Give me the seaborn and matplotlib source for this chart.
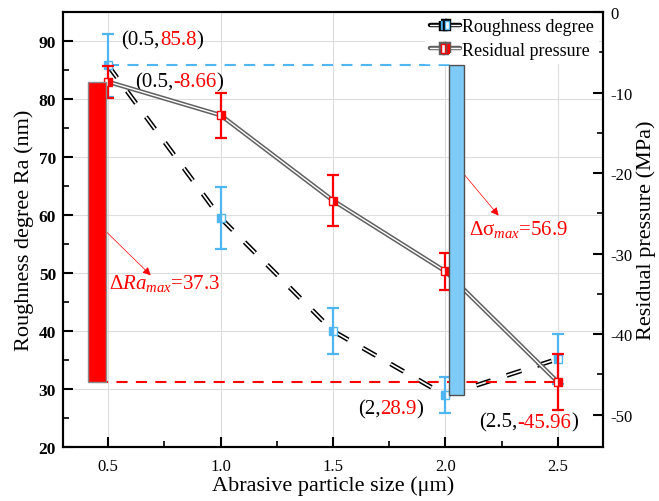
import matplotlib
matplotlib.use("Agg")
import matplotlib.pyplot as plt
import matplotlib.patheffects as pe
import matplotlib.transforms as mtrans
from matplotlib.ticker import MultipleLocator
from matplotlib.lines import Line2D
import seaborn as sns
import pandas as pd

# ---------------- data ----------------
sizes = [0.5, 1.0, 1.5, 2.0, 2.5]
roughness = [85.8, 59.5, 40.0, 28.9, 35.2]
roughness_err = [5.4, 5.3, 3.9, 3.1, 4.3]
pressure = [-8.66, -12.8, -23.4, -32.2, -45.96]
pressure_err = [2.0, 2.8, 3.2, 2.3, 3.45]
x_ticks = [0.5, 1.0, 1.5, 2.0, 2.5]
x_ticklabels = ["0.5", "1.0", "1.5", "2.0", "2.5"]
left_ticks = [20, 30, 40, 50, 60, 70, 80, 90]
right_ticks = [0, -10, -20, -30, -40, -50]
red_bar_x = 0.45
blue_bar_x = 2.05
delta_ra_text = "37.3"
delta_sigma_text = "56.9"

df = pd.DataFrame({"size": sizes, "Ra": roughness, "P": pressure})

sns.set_theme(style="white")
plt.rcParams["font.family"] = ["Liberation Serif", "DejaVu Serif"]
plt.rcParams["mathtext.fontset"] = "custom"
plt.rcParams["mathtext.rm"] = "Liberation Serif"
plt.rcParams["mathtext.it"] = "Liberation Serif:italic"
plt.rcParams["lines.scale_dashes"] = False
for k in ("text.color", "axes.labelcolor", "xtick.color", "ytick.color", "axes.edgecolor"):
    plt.rcParams[k] = "black"

BLUE = "#4fb6f2"
BLUE_BAR = "#7fcbf7"
RED = "#ff0000"
DASH = (0, (11, 12))

fig = plt.figure(figsize=(6.59, 5.02), dpi=100)
ax = fig.add_axes([63 / 659, 1 - 448 / 502, 540 / 659, 435 / 502])
ax2 = ax.twinx()

# ---------- roughness (left axis) : black dashed line with white core ----------
sns.lineplot(data=df, x="size", y="Ra", ax=ax, color="black", lw=3.4,
             linestyle=DASH, dash_capstyle="butt", zorder=3)
sns.lineplot(data=df, x="size", y="Ra", ax=ax, color="white", lw=1.2,
             linestyle=DASH, dash_capstyle="butt", zorder=3.1)
ax.errorbar(sizes, roughness, yerr=roughness_err, fmt="none", ecolor=BLUE,
            elinewidth=1.6, capsize=4.5, capthick=1.6, zorder=4)
ax.plot(sizes, roughness, ls="none", marker="s", ms=6.3, fillstyle="left",
        color=BLUE, markerfacecoloralt="white", mec=BLUE, mew=1, zorder=5)
ax.hlines(roughness[0], sizes[0], blue_bar_x, colors=BLUE, lw=1.5,
          linestyles=(0, (8, 6)), zorder=2)

# ---------- residual pressure (right axis) ----------
sns.lineplot(data=df, x="size", y="P", ax=ax2, color="white", lw=1.0, zorder=3,
             path_effects=[pe.Stroke(linewidth=3.2, foreground="#606060"), pe.Normal()])
ax2.errorbar(sizes, pressure, yerr=pressure_err, fmt="none", ecolor=RED,
             elinewidth=1.6, capsize=4.5, capthick=1.6, zorder=4)
ax2.plot(sizes, pressure, ls="none", marker="s", ms=6.3, fillstyle="right",
         color=RED, markerfacecoloralt="white", mec=RED, mew=1, zorder=5)
ax2.hlines(pressure[-1], red_bar_x, sizes[-1], colors=RED, lw=1.5,
           linestyles=(0, (8, 6)), zorder=2)

# range bars
ax2.bar(red_bar_x, pressure[0] - pressure[-1], bottom=pressure[-1], width=0.08,
        color=RED, edgecolor="#8a8a8a", lw=1.0, zorder=6)
blend = mtrans.blended_transform_factory(ax2.transData, ax.transData)
ax2.bar(blue_bar_x, max(roughness) - min(roughness), bottom=min(roughness), width=0.067,
        color=BLUE_BAR, edgecolor="#505050", lw=1.0, zorder=6, transform=blend)

# ---------- axes formatting ----------
ax.set_xlim(0.3, 2.7)
ax.set_ylim(20, 95)
ax2.set_ylim(-54, 0)
ax.set_xticks(x_ticks)
ax.set_xticklabels(x_ticklabels)
ax.set_yticks(left_ticks)
ax.set_yticklabels([str(t) for t in left_ticks], fontweight="bold")
ax2.set_yticks(right_ticks)
ax2.set_yticklabels([str(t) for t in right_ticks])
ax.xaxis.set_minor_locator(MultipleLocator(0.25))
ax.yaxis.set_minor_locator(MultipleLocator(5))
ax2.yaxis.set_minor_locator(MultipleLocator(5))

ax.grid(True, which="major", color="#dddddd", lw=0.8)
ax.set_axisbelow(True)

for a in (ax, ax2):
    for s in a.spines.values():
        s.set_linewidth(1.5)
        s.set_color("black")
ax.tick_params(axis="both", which="both", direction="in", color="black",
               left=True, bottom=True, right=False, top=False)
ax.tick_params(which="major", length=7, width=1.5, labelsize=12.5, pad=5)
ax.tick_params(which="minor", length=4, width=1.2)
ax.tick_params(axis="x", labelsize=12, pad=8)
ax2.tick_params(axis="y", which="both", direction="in", color="black", right=True)
ax2.tick_params(axis="y", which="major", length=7, width=1.5, labelsize=12, pad=5)
ax2.tick_params(axis="y", which="minor", length=4, width=1.2)

ax.set_xlabel("Abrasive particle size (μm)", fontsize=16, labelpad=1)
ax.set_ylabel("Roughness degree Ra (nm)", fontsize=16, labelpad=3)
ax2.set_ylabel("Residual pressure (MPa)", fontsize=16, labelpad=3)

# ---------- annotations ----------
def colored_label(axis, x, y, parts, size=15):
    t = axis.text(x, y, parts[0][0], color=parts[0][1], fontsize=size,
                  va="center", ha="left", zorder=8)
    prev = t
    for txt, col in parts[1:]:
        prev = axis.annotate(txt, xy=(1, 0), xycoords=prev, va="bottom", ha="left",
                             color=col, fontsize=size, zorder=8)
    return t

colored_label(ax, 0.56, 90.2, [("(0.5,", "black"), (f"{roughness[0]}", RED), (")", "black")])
colored_label(ax, 0.62, 83.0, [("(0.5,", "black"), (f"{pressure[0]}", RED), (")", "black")])
colored_label(ax, 1.61, 26.6, [("(2,", "black"), (f"{roughness[3]}", RED), (")", "black")])
colored_label(ax, 2.148, 24.3, [("(2.5,", "black"), (f"{pressure[-1]}", RED), (")", "black")])

ax.text(0.505, 48.4, r"Δ$Ra_{max}$=" + delta_ra_text, color=RED, fontsize=15,
        va="center", ha="left", zorder=8)
ax.text(2.103, 57.6, r"Δσ$_{max}$=" + delta_sigma_text, color=RED, fontsize=15,
        va="center", ha="left", zorder=8)
ax.annotate("", xy=(0.69, 49.6), xytext=(0.49, 57.2),
            arrowprops=dict(arrowstyle="-|>", color=RED, lw=0.5, mutation_scale=12,
                            shrinkA=0, shrinkB=0), zorder=8)
ax.annotate("", xy=(2.236, 59.9), xytext=(2.085, 66.9),
            arrowprops=dict(arrowstyle="-|>", color=RED, lw=0.5, mutation_scale=12,
                            shrinkA=0, shrinkB=0), zorder=8)

# ---------- legend ----------
h1 = Line2D([], [], color="white", lw=1.0, marker="s", ms=6.3, fillstyle="left",
            mfc=BLUE, markerfacecoloralt="white", mec=BLUE,
            path_effects=[pe.Stroke(linewidth=3.2, foreground="black"), pe.Normal()])
h2 = Line2D([], [], color="white", lw=1.0, marker="s", ms=6.3, fillstyle="right",
            mfc=RED, markerfacecoloralt="white", mec=RED,
            path_effects=[pe.Stroke(linewidth=3.2, foreground="#606060"), pe.Normal()])
leg = ax2.legend([h1, h2], ["Roughness degree", "Residual pressure"],
                 loc="upper right", bbox_to_anchor=(0.995, 1.0), fontsize=13,
                 frameon=True, facecolor="white", edgecolor="white", framealpha=1,
                 fancybox=False, handlelength=1.7, handletextpad=0.1,
                 borderpad=0.25, labelspacing=0.35, borderaxespad=0.1)
leg.set_zorder(10)

fig.savefig("out.png", dpi=100)
